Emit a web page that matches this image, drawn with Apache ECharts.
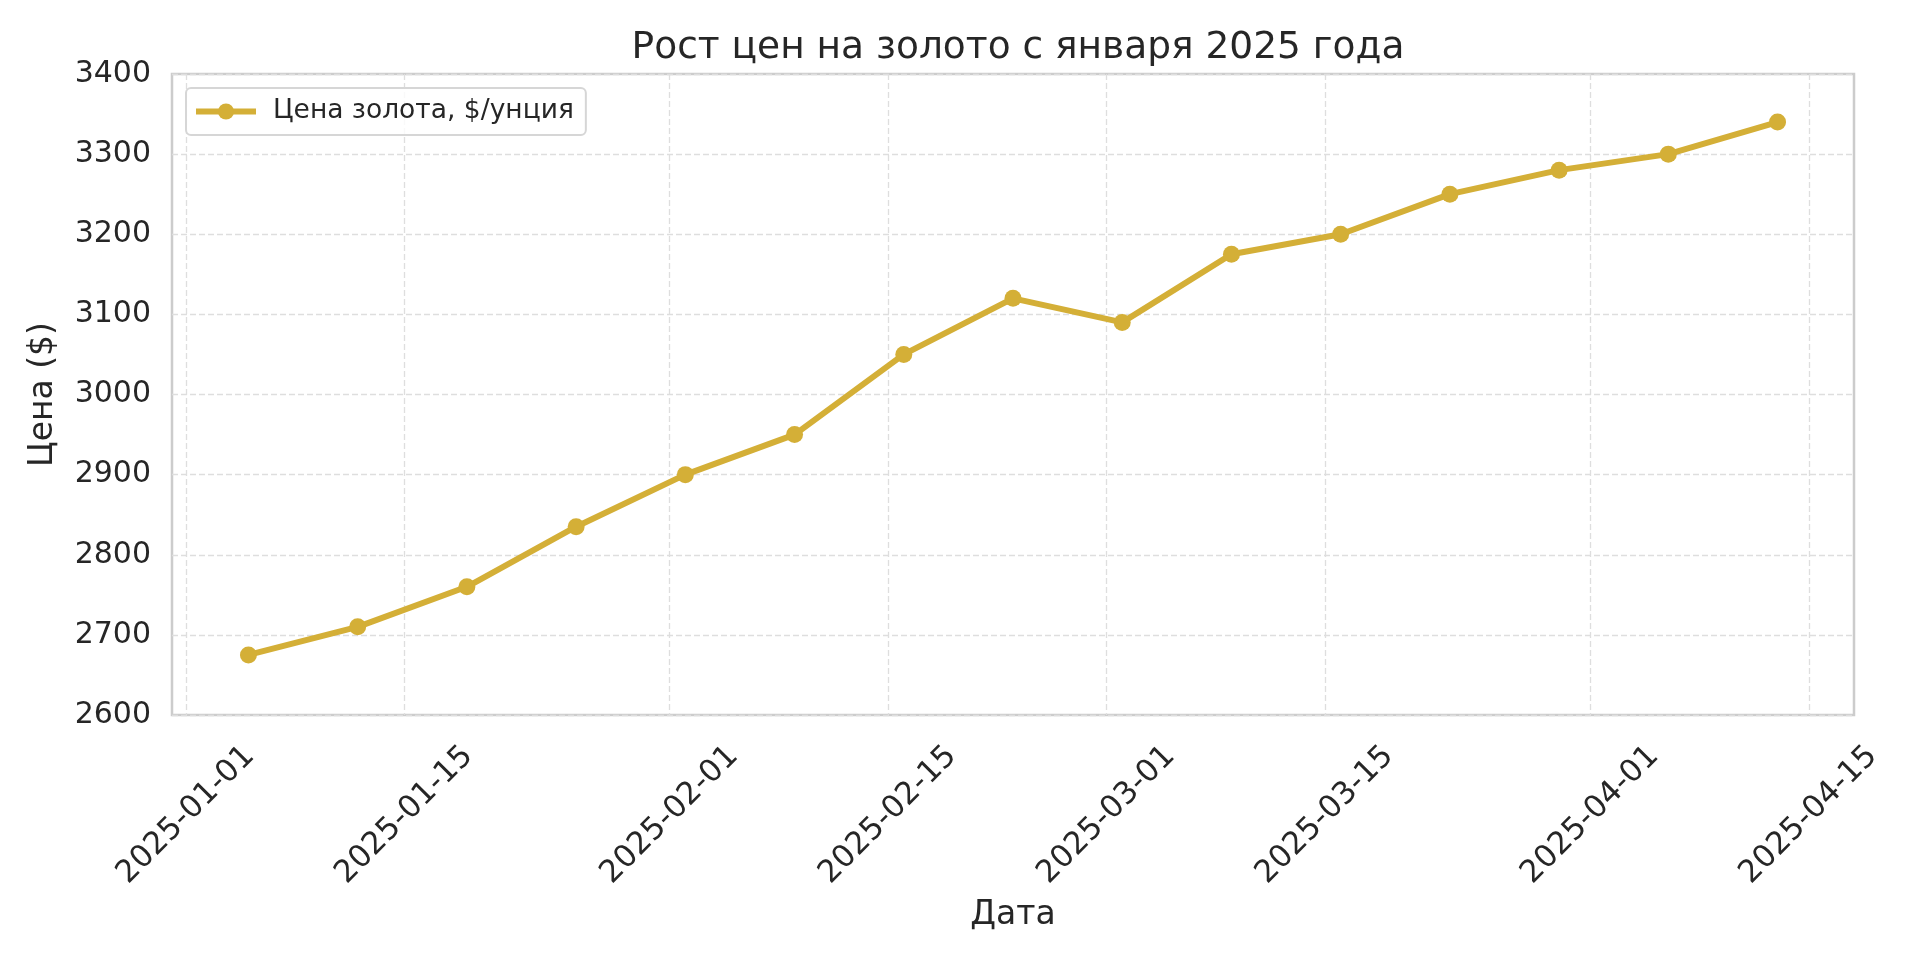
<!DOCTYPE html>
<html>
<head>
<meta charset="utf-8">
<script src="https://cdn.jsdelivr.net/npm/echarts@6/dist/echarts.min.js"></script>
<style>html,body{margin:0;padding:0;background:#fff}#c{width:1920px;height:960px}</style>
</head>
<body>
<div id="c"></div>
<script>
var dates = ['2025-01-05','2025-01-12','2025-01-19','2025-01-26','2025-02-02','2025-02-09','2025-02-16','2025-02-23','2025-03-02','2025-03-09','2025-03-16','2025-03-23','2025-03-30','2025-04-06','2025-04-13'];
var prices = [2675, 2710, 2760, 2835, 2900, 2950, 3050, 3120, 3090, 3175, 3200, 3250, 3280, 3300, 3340];
var xTickLabels = ['2025-01-01','2025-01-15','2025-02-01','2025-02-15','2025-03-01','2025-03-15','2025-04-01','2025-04-15'];
var seriesName = 'Цена золота, $/унция';
var titleText = 'Рост цен на золото с января 2025 года';
var xName = 'Дата';
var yName = 'Цена ($)';

function toMs(s){ var p = s.split('-'); return Date.UTC(+p[0], +p[1]-1, +p[2]); }
function fmt(ms){ var d = new Date(ms); var m = d.getUTCMonth()+1, dd = d.getUTCDate(); return d.getUTCFullYear() + '-' + (m<10?'0':'') + m + '-' + (dd<10?'0':'') + dd; }

var xs = dates.map(toMs);
var span = xs[xs.length-1] - xs[0];
var xMin = xs[0] - span*0.05, xMax = xs[xs.length-1] + span*0.05;
var tickVals = xTickLabels.map(toMs);
var data = xs.map(function(x,i){ return [x, prices[i]]; });

var FONT = 'DejaVu Sans';
var TXT = '#262626';
var GOLD = '#D4AF37';

var chart = echarts.init(document.getElementById('c'), null, {renderer:'canvas'});
chart.setOption({
  animation: false,
  backgroundColor: '#ffffff',
  textStyle: {fontFamily: FONT},
  title: {
    text: titleText, left: 1013, top: 24, textAlign: 'center',
    textStyle: {fontFamily: FONT, fontSize: 37.5, fontWeight: 'normal', color: TXT}
  },
  legend: {
    left: 186, top: 88,
    padding: [10, 12, 10, 7],
    backgroundColor: 'rgba(255,255,255,0.8)',
    borderColor: '#d6d6d6', borderWidth: 2, borderRadius: 5,
    itemWidth: 60, itemHeight: 20,
    lineStyle: {width: 6},
    textStyle: {fontFamily: FONT, fontSize: 26.5, color: TXT, padding: [0,0,0,12]},
    data: [seriesName]
  },
  grid: {
    left: 172, right: 66, top: 74, bottom: 245,
    show: true, borderColor: '#cccccc', borderWidth: 2.5,
    outerBoundsMode: 'none'
  },
  xAxis: {
    type: 'value', min: xMin, max: xMax,
    name: xName, nameLocation: 'middle', nameGap: 184,
    nameTextStyle: {fontFamily: FONT, fontSize: 33, color: TXT},
    axisLine: {show: false},
    axisTick: {show: false, customValues: tickVals},
    splitLine: {show: true, lineStyle: {color: '#dedede', width: 1.3, type: [6, 3]}},
    axisLabel: {
      customValues: tickVals,
      formatter: function(v){ return fmt(v); },
      rotate: 45, align: 'center', verticalAlign: 'middle', margin: 100,
      fontFamily: FONT, fontSize: 31, color: TXT, hideOverlap: false,
      showMinLabel: true, showMaxLabel: true
    }
  },
  yAxis: {
    type: 'value', min: 2600, max: 3400, interval: 100,
    name: yName, nameLocation: 'middle', nameGap: 112, nameRotate: 90,
    nameTextStyle: {fontFamily: FONT, fontSize: 33, color: TXT},
    axisLine: {show: false}, axisTick: {show: false},
    splitLine: {show: true, lineStyle: {color: '#dedede', width: 1.3, type: [6, 3]}},
    axisLabel: {fontFamily: FONT, fontSize: 30, color: TXT, margin: 21,
      formatter: function(v){ return String(v); }}
  },
  series: [{
    name: seriesName, type: 'line', data: data,
    symbol: 'circle', symbolSize: 17, showSymbol: true,
    lineStyle: {color: GOLD, width: 6},
    itemStyle: {color: GOLD, borderWidth: 0}
  }]
});
</script>
</body>
</html>
